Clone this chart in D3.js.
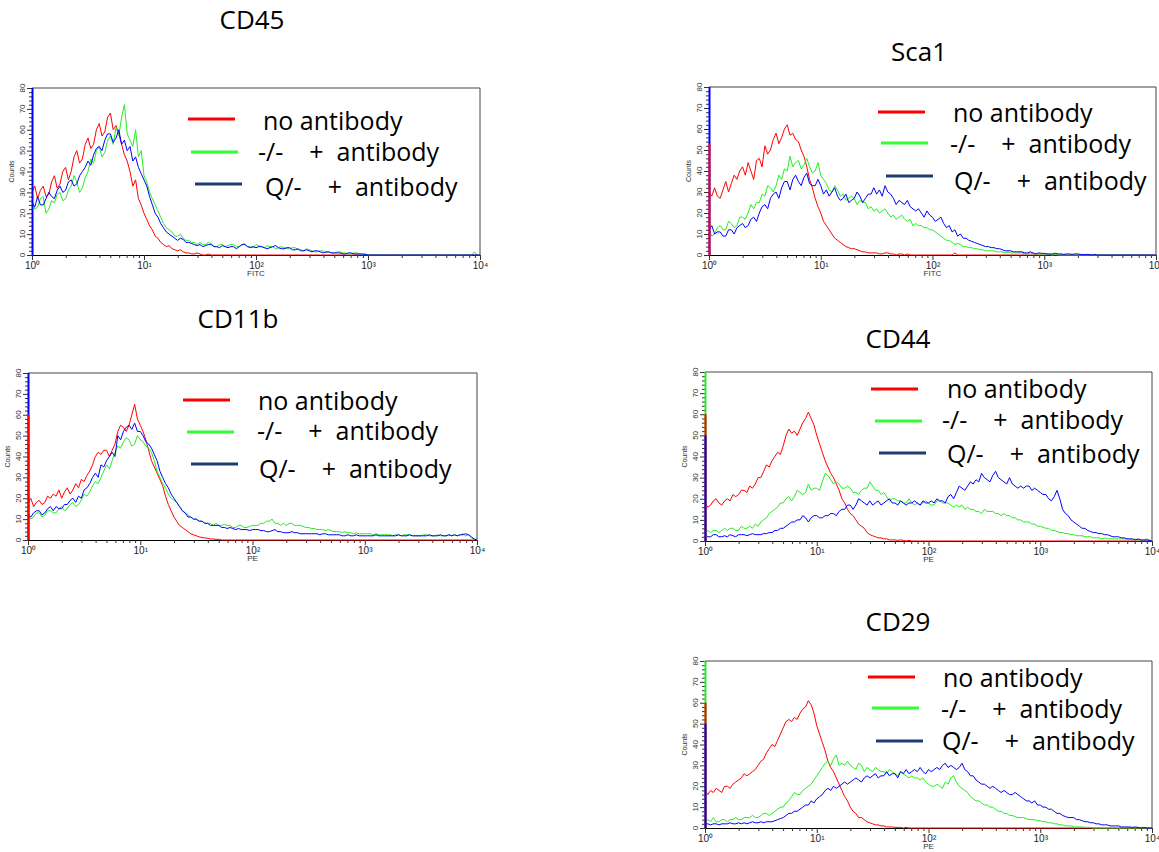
<!DOCTYPE html>
<html>
<head>
<meta charset="utf-8">
<script src="https://cdn.jsdelivr.net/npm/d3@7"></script>
<style>
  body { margin: 0; background: #fff; }
  svg { display: block; }
  .ttl { font-family: "Open Sans", sans-serif; font-size: 26px; fill: #000; }
  .leg { font-family: "Open Sans", sans-serif; font-size: 25px; fill: #000; white-space: pre; }
  .ax text { font-family: "Liberation Sans", Arial, sans-serif; fill: #222; }
</style>
</head>
<body>
<div id="chart"></div>
<script>
// histogram channels: 40 per decade, 10^0 .. 10^4 (161 bins)
const stepsPerDecade = 40;
const seriesNames = ["no antibody", "-/-    +  antibody", "Q/-    +  antibody"];
const titles = ["CD45", "Sca1", "CD11b", "CD44", "CD29"];
const xLabels = ["FITC", "FITC", "PE", "PE", "PE"];
const yTicks = [0, 10, 20, 30, 40, 50, 60, 70, 80];
const xTicks = [1, 10, 100, 1000, 10000];

// counts per bin (10 bins = a quarter decade per row)
const cd45Red = [
  30,33,27,31,33,28,29,35,38,32,
  34,40,42,36,40,47,50,44,46,53,
  56,51,53,60,63,57,59,66,68,60,
  62,58,53,48,45,40,33,36,27,24,
  20,17,14,12,9,8,6,5,4,4.5,
  3,2.5,2,2.5,1.5,1,1,0.5,0.5,1,
  0.5,0,0,0.5,0,0,0,0,0,0,
  0,0,0,0,0,0,0,0,0,0,
  0,0,0,0,0,0,0,0,0,0,
  0,0,0,0,0,0,0,0,0,0,
  0,0,0,0,0,0,0,0,0,0,
  0,0,0,0,0,0,0,0,0,0,
  0,0,0,0,0,0,0,0,0,0,
  0,0,0,0,0,0,0,0,0,0,
  0,0,0,0,0,0,0,0,0,0,
  0,0,0,0,0,0,0,0,0,0,
  0];
const cd45Green = [
  26,22,23,27,28,20,22,26,25,29,
  30,26,27,31,33,38,35,30,32,37,
  40,46,44,50,52,47,49,55,57,53,
  61,57,66,72,58,55,52,60,47,50,
  38,35,30,27,24,21,18,15,13,12,
  11,9,9,10,8,7,7,6,6,5,
  6,5,5,6,5.5,4,4,5,5,4,
  4.5,5,5,4,4,5,5.5,4,4,3.5,
  5,4.5,4,3.5,4.5,4,4,3,3.5,4,
  3.5,3,3,3.5,3.5,2.5,2.5,2,3,2.5,
  2,1.5,1.5,2,2,1,1.5,1,1,1.5,
  1.5,1,1,0.5,0.5,1,1,0.5,0.3,0.5,
  0,0,0,0,0,0,0,0,0,0,
  0,0,0,0,0,0,0,0,0,0,
  0,0,0,0,0,0,0,0,0,0,
  0,0,0,0,0,0,0,0,1.5,0,
  0];
const cd45Blue = [
  25,23,28,24,24,27,30,28,27,31,
  33,30,31,35,36,33,34,38,40,42,
  45,43,48,51,52,50,55,58,58,54,
  56,60,53,55,50,52,45,47,42,39,
  36,33,28,24,20,18,15,13,11,10,
  9,8,7,8,7.5,6,6,5.5,5,4.5,
  5,4,4.5,5,5,4,4,3.5,4.5,4,
  3.5,4,4,3,4,5,5,4,3.5,4,
  3.5,4,4,3.5,3,3.5,4,4.5,3.5,3,
  3,3.5,3.5,2.5,2.5,3,2,2,2.5,2,
  1.5,2,2,1.5,1,1.5,1.5,1,1,1,
  1,0.5,0.5,1,1,0.5,0.5,0.5,0.5,0.3,
  0,0,0,0,0,0,0,0,0,0,
  0,0,0,0,0,0,0,0,0,0,
  0,0,0,0,0,0,0,0,0,0,
  0,0,0,0,0,0,0,0,0,0,
  0];

const sca1Red = [
  30,28,32,28,27,31,35,30,34,38,
  36,40,42,38,44,40,36,45,46,42,
  52,48,50,55,58,53,56,60,62,57,
  58,55,54,50,47,42,36,32,27,23,
  20,16,14,12,10,8,7,6,5,4,
  3.5,3,3,2.5,2,1.5,1.5,1,1,1,
  1,0.5,0.5,1,1,0.5,0.5,0,0.5,0.5,
  0,0.5,0,0,0,0,0,0,0,0,
  0,0,0,0,0,0,0,0,1,0,
  0,0,0,0,0,0,0,0,0,0,
  0,0,0,0,0,0,0,0,0,0,
  0,0,0,0,0,0,0,0,0,0,
  0,0,0,0,0,0,0,0,0,0,
  0,0,0,0,0,0,0,0,0,0,
  0,0,0,0,0,0,0,0,0,0,
  0,0,0,0,0,0,0,0,0,0,
  0];
const sca1Green = [
  12,9,10,13,14,12,12,16,15,13,
  14,18,18,17,20,24,22,25,25,29,
  28,33,32,30,33,38,36,41,40,47,
  42,44,45,41,43,46,42,39,40,44,
  38,36,34,31,30,33,31,28,29,26,
  27,28,27,24,26,25,25,22,23,21,
  22,20,21,22,20,18,19,17,18,19,
  17,16,17,14,15,14,14,13,13,12,
  12,11,10,9,8,7,7,6,5,5.5,
  5,4,4,3.5,3.5,3,3,2.5,2.5,2,
  2,2,2,1.5,1.5,1.5,1,1.5,1,1,
  1,1,1,0.5,0.5,1,0.5,0.5,0.5,0.5,
  0.5,0.5,0.3,0,0.5,0,0,0,0,0,
  0,0,0,0,0,0,0,0,0,0,
  0,0,0,0,0,0,0,0,0,0,
  0,0,0,0,0,0,0,0,0,0,
  0];
const sca1Blue = [
  12,14,10,11,11,9,9,12,12,10,
  13,14,15,13,14,17,18,16,20,23,
  24,22,27,29,30,27,32,35,35,31,
  36,38,35,33,37,39,34,33,33,36,
  33,29,31,28,30,32,28,26,27,29,
  25,26,27,30,28,25,27,29,29,32,
  29,31,28,33,30,29,27,24,26,25,
  24,26,23,22,21,22,20,18,21,19,
  18,16,17,18,15,13,14,11,12,9,
  10,8,8,7,6.5,6,5.5,5,4.5,4,
  4,3.5,3.5,3,3,2.5,2,2,2,1.5,
  1.5,1.5,1.5,1,1,1.5,1,0.5,1,0.8,
  0.8,0.5,0.5,0.5,0.8,0.5,0.5,0.3,0.5,0.5,
  0.3,0.5,0.5,0.3,0.2,0.3,0.2,0,0.3,0,
  0,0,0,0,0,0,0,0,0,0,
  0,0,0,0,0,0,0,0,0,0,
  0];

const cd11bRed = [
  18,20,16,18,19,17,18,21,20,22,
  21,24,20,23,25,22,24,27,25,29,
  28,31,33,36,40,42,41,43,43,40,
  43,46,52,55,54,52,55,60,65,58,
  55,52,48,43,38,35,32,29,26,21,
  17,14,11,9,7,6,5,4,3,2.5,
  2,1.5,1.2,1,0.8,0.5,0.5,0.3,0.3,0,
  0,0,0,0,0,0,0,0,0,0,
  0,0,0,0,0,0,0,0,0,0,
  0,0,0,0,0,0,0,0,0,0,
  0,0,0,0,0,0,0,0,0,0,
  0,0,0,0,0,0,0,0,0,0,
  0,0,0,0,0,0,0,0,0,0,
  0,0,0,0,0,0,0,0,0,0,
  0,0,0,0,0,0,0,0,0,0,
  0,0,0,0,0,0,0,0,0,0,
  0];
const cd11bGreen = [
  12,10,11,13,13,11,12,14,14,13,
  13,15,16,14,15,17,18,16,17,19,
  22,21,23,26,28,27,30,33,36,34,
  38,42,45,44,47,49,48,45,46,50,
  48,47,45,44,42,38,33,30,27,25,
  22,20,19,18,16,14,13,12,11,10,
  10,9,9,8,8,8,7,8,7,7,
  7.5,7,7,6,6,7,7,6,6,6.5,
  7,7,7,8,8,9,9,10,8,8,
  7,8,7,8,8,7,7,7,6.5,6,
  6,5.5,5.5,5,5,5,4.5,5,4.5,4,
  4,4,3.5,4,3.5,3.5,3,3.5,3,3,
  3,3,3,2.5,3,2.5,2.5,2.5,2.5,2.5,
  2,2.5,2.5,2,2.5,2.5,2.5,2,2,2,
  2,2.5,2.5,2,2,2,2.5,2,2,2,
  2.5,2,2.5,2,2.5,3,2,2.5,1,0.5,
  0];
const cd11bBlue = [
  12,11,13,14,14,12,13,15,16,14,
  16,15,15,17,17,19,20,18,21,20,
  24,25,27,30,32,30,36,35,38,40,
  42,40,50,48,52,54,55,53,56,52,
  52,50,47,46,44,41,38,33,30,27,
  25,22,20,18,16,14,13,11,11,10,
  10,9,9,8,8,7,7,7,7,6,
  6,5.5,6,5.5,5,5.5,5,5,5,4.5,
  5,5,5,4.5,4.5,4,4,4.5,5,4,
  4,3.5,3.5,3.5,4,3.5,3.5,3,3,3,
  3,3,3,3,2.5,3,3,2.5,2.5,2.5,
  2.5,2.5,2,2,2.5,2,2,2.5,2,2,
  2,2,2,2,2.5,2,2,2,2,2,
  2,2,2.5,2,2,2,2.5,2,2,2,
  2,2,2,2.5,2,2,2,2.5,2,2,
  2.5,2,2.5,2,2.5,2.5,3,2.5,1.5,0.5,
  0];

const cd44Red = [
  18,16,17,19,20,18,17,19,20,19,
  22,21,22,24,24,23,26,25,27,30,
  30,33,36,35,38,40,42,41,45,50,
  53,51,52,50,53,56,58,61,58,55,
  50,46,42,38,35,32,30,27,24,20,
  18,15,13,12,10,8,7,6,4,3,
  2.5,2,1.5,1.5,1,1,0.5,0.5,0.5,0.3,
  0.5,0.3,0,0.3,0,0,0,0,0,0,
  0,0,0,0,0,0,0,0,0,0,
  0,0,0,0,0,0,0,0,0,0,
  0,0,0,0,0,0,0,0,0,0,
  0,0,0,0,0,0,0,0,0,0,
  0,0,0,0,0,0,0,0,0,0,
  0,0,0,0,0,0,0,0,0,0,
  0,0,0,0,0,0,0,0,0,0,
  0,0,0,0,0,0,0,0,0,0,
  0];
const cd44Green = [
  4,5,4,5,5,4,5,6,5,6,
  6,5,5,7,6,6,7,6,8,7,
  9,10,11,13,14,15,16,18,18,20,
  21,19,21,24,23,22,23,27,24,25,
  25,24,28,32,31,29,27,28,27,25,
  25,26,25,23,23,22,24,25,25,28,
  26,24,24,22,23,21,19,20,20,19,
  19,18,18,20,18,17,18,17,18,19,
  18,17,17,19,19,18,18,18,17,16,
  17,16,17,15,16,15,15,14,14,13,
  15,14,14,14,13,13,12,13,12,12,
  11,11,10,10,9,9,9,8,8,7,
  7,6.5,6,6,5,5,4.5,4,4,3.5,
  3.5,3,3,2.5,2.5,2.5,2,2,2,1.5,
  1.5,1.5,1,1.5,1,1,1,1,1,1,
  1,1,1,0.5,1,0.5,0.5,0.5,1,0.5,
  0];
const cd44Blue = [
  3,2,2,3,3,2,2,2.5,2,3,
  2.5,2,3,3,3,2.5,3,3.5,3,3,
  3,3.5,3.5,4,4,5,5,6,6,7,
  8,9,9,10,10,12,11,9,11,12,
  12,11,11,12,12,13,13,12,14,15,
  15,17,17,15,17,20,19,18,17,19,
  17,18,19,17,18,19,20,18,18,17,
  19,18,17,18,18,19,18,17,19,18,
  18,19,18,20,19,19,18,21,22,20,
  23,26,25,24,26,28,27,29,28,32,
  30,29,28,31,33,30,29,28,27,30,
  27,26,25,26,25,26,26,24,25,24,
  23,22,22,20,19,21,24,20,15,13,
  12,10,9,8,7,6,6,5,4.5,4,
  4,3.5,3.5,3,3,2.5,2,2,2,1.5,
  1.5,1,1,1,0.5,1,0.5,0.5,0.5,0.3,
  0];

const cd29Red = [
  18,16,18,17,19,18,17,20,20,19,
  21,22,23,24,26,25,26,27,28,30,
  32,33,36,38,40,39,42,45,48,51,
  52,51,53,52,55,57,58,61,59,55,
  49,45,41,37,32,29,27,24,21,18,
  15,13,10,8,7,5,5,4,3,2.5,
  2,1.5,1.5,1,1,0.5,0.5,0.5,0.3,0.3,
  0.3,0,0.3,0,0,0,0,0,0,0,
  0,0,0,0,0,0,0,0,0,0,
  0,0,0,0,0,0,0,0,0,0,
  0,0,0,0,0,0,0,0,0,0,
  0,0,0,0,0,0,0,0,0,0,
  0,0,0,0,0,0,0,0,0,0,
  0,0,0,0,0,0,0,0,0,0,
  0,0,0,0,0,0,0,0,0,0,
  0,0,0,0,0,0,0,0,0,0,
  0];
const cd29Green = [
  3,4,3,5,3,3,4,4,3,4,
  4,5,4,4,5,5,5,6,5,5,
  6,7,7,6,7,8,9,10,10,12,
  13,15,17,16,16,18,19,20,21,23,
  25,27,29,31,32,30,33,35,30,31,
  30,32,30,29,28,31,30,27,29,28,
  27,29,28,27,27,26,28,27,26,25,
  27,26,25,24,25,24,24,23,24,22,
  21,20,20,21,20,19,22,21,24,25,
  22,20,19,18,17,15,14,13,13,12,
  11,11,10,10,9,8,8,7,7,6,
  6,5.5,5,5,5,4.5,4,4,4,3.5,
  3.5,3,3,2.5,2.5,2,2,1.5,1.5,1,
  1,1,0.5,0.5,0.5,0.5,0.3,0.3,0.3,0,
  0,0,0,0,0,0,0,0,0,0,
  0,0,0,0,0,0,0,0,0,0,
  0];
const cd29Blue = [
  2,2,1.5,2,2,1.5,2,2,2,2.5,
  2,2,2.5,2,2.5,2,2.5,3,2.5,2.5,
  3,2.5,3,3,3,3.5,4,4.5,5,6,
  7,7,8,8,9,10,11,11,13,12,
  14,15,16,18,19,18,20,19,20,21,
  22,21,22,23,24,23,22,24,25,24,
  25,26,24,25,25,27,25,26,26,24,
  27,26,28,26,27,28,27,29,27,26,
  28,27,28,29,28,30,31,29,30,29,
  28,29,31,28,27,25,25,23,22,21,
  21,20,19,20,19,18,17,18,17,16,
  16,17,16,15,14,13,13,12,13,11,
  11,10,10,9,9,8,7,7,6,5.5,
  5,5,5,4,4,3.5,3,3,2.5,2.5,
  2,2,1.5,1.5,1.5,1,1,1,1,0.5,
  0.5,0.5,0.5,0.3,0.5,0.3,0,0.3,0,0,
  0];

// first-channel pile-up (red, green, blue)
const cd45Edge = [0, 0, 80];
const sca1Edge = [53, 0, 80];
const cd11bEdge = [60, 0, 80];
const cd44Edge = [60, 80, 50];
const cd29Edge = [60, 80, 50];

const lineColors = ["#ff0000", "#22ee22", "#0000ff"];
const legendColors = ["#ff0000", "#33ff33", "#1f3b73"];

// layout of each panel on the page
const panels = [
  { title: titles[0], xLabel: xLabels[0], series: [cd45Red, cd45Green, cd45Blue], edge: cd45Edge,
    box: { l: 32, r: 480, t: 88, b: 255 }, titleAt: [252, 29],
    legend: { lines: [[188, 119], [191, 152], [195, 184]], text: [[263, 130], [258, 161], [265, 196]] } },
  { title: titles[1], xLabel: xLabels[1], series: [sca1Red, sca1Green, sca1Blue], edge: sca1Edge,
    box: { l: 709, r: 1156, t: 87, b: 255 }, titleAt: [919, 61],
    legend: { lines: [[878, 112], [881, 143], [886, 176]], text: [[953, 122], [950, 153], [954, 190]] } },
  { title: titles[2], xLabel: xLabels[2], series: [cd11bRed, cd11bGreen, cd11bBlue], edge: cd11bEdge,
    box: { l: 28, r: 477, t: 373, b: 540 }, titleAt: [238, 328],
    legend: { lines: [[183, 400], [187, 432], [191, 464]], text: [[258, 410], [257, 440], [259, 478]] } },
  { title: titles[3], xLabel: xLabels[3], series: [cd44Red, cd44Green, cd44Blue], edge: cd44Edge,
    box: { l: 705, r: 1152, t: 372, b: 541 }, titleAt: [898, 348],
    legend: { lines: [[871, 389], [875, 421], [879, 453]], text: [[947, 398], [942, 429], [947, 463]] } },
  { title: titles[4], xLabel: xLabels[4], series: [cd29Red, cd29Green, cd29Blue], edge: cd29Edge,
    box: { l: 705, r: 1152, t: 661, b: 828 }, titleAt: [898, 631],
    legend: { lines: [[868, 677], [872, 708], [876, 741]], text: [[943, 687], [941, 718], [942, 750]] } }
];

const svg = d3.select("#chart").append("svg")
  .attr("width", 1159)
  .attr("height", 852);

const supDigits = { "0": "\u2070", "1": "\u00b9", "2": "\u00b2", "3": "\u00b3", "4": "\u2074" };

panels.forEach(p => {
  const { l, r, t, b } = p.box;
  const x = d3.scaleLog().domain([1, 10000]).range([l, r]);
  const y = d3.scaleLinear().domain([0, 80]).range([b, t]);
  const g = svg.append("g");

  // title
  g.append("text").attr("class", "ttl")
    .attr("x", p.titleAt[0]).attr("y", p.titleAt[1])
    .attr("text-anchor", "middle")
    .text(p.title);

  // frame top + right
  g.append("path")
    .attr("d", `M${l},${t}H${r}V${b}`)
    .attr("fill", "none").attr("stroke", "#444").attr("stroke-width", 1);

  // y axis: major every 10, minor every 2
  const yAx = g.append("g").attr("class", "ax").attr("transform", `translate(${l},0)`)
    .call(d3.axisLeft(y).tickValues(d3.range(0, 81, 2)).tickSize(3).tickFormat(""));
  yAx.select(".domain").remove();
  yAx.selectAll("line").attr("stroke", "#333");
  yAx.selectAll(".tick").filter(d => d % 10 === 0).select("line").attr("x2", -5);
  yTicks.forEach(v => {
    g.append("text")
      .attr("transform", `translate(${l - 7},${y(v)}) rotate(-90)`)
      .attr("text-anchor", "middle")
      .style("font-family", "Liberation Sans, Arial, sans-serif")
      .style("font-size", "8px").style("fill", "#333")
      .text(v);
  });
  g.append("text")
    .attr("transform", `translate(${l - 18},${(t + b) / 2}) rotate(-90)`)
    .attr("text-anchor", "middle")
    .style("font-family", "Liberation Sans, Arial, sans-serif")
    .style("font-size", "7px").style("fill", "#333")
    .text("Counts");

  // x axis: decades + minor ticks
  const minor = [];
  for (let d = 1; d < 10000; d *= 10) for (let k = 2; k <= 9; k++) minor.push(d * k);
  const xAx = g.append("g").attr("class", "ax").attr("transform", `translate(0,${b})`)
    .call(d3.axisBottom(x).tickValues(minor).tickSize(3).tickFormat(""));
  xAx.select(".domain").attr("stroke", "#000");
  xAx.selectAll("line").attr("stroke", "#333");
  const xMaj = g.append("g").attr("class", "ax").attr("transform", `translate(0,${b})`)
    .call(d3.axisBottom(x).tickValues(xTicks).tickSize(5)
      .tickFormat(d => "10" + supDigits[String(Math.round(Math.log10(d)))]));
  xMaj.select(".domain").remove();
  xMaj.selectAll("line").attr("stroke", "#333");
  xMaj.selectAll("text").attr("dy", "0.55em").style("font-size", "10px");
  g.append("text")
    .attr("x", x(100)).attr("y", b + 21)
    .attr("text-anchor", "middle")
    .style("font-family", "Liberation Sans, Arial, sans-serif")
    .style("font-size", "8px").style("fill", "#333")
    .text(p.xLabel);

  // histogram traces
  const line = d3.line()
    .x((d, i) => x(Math.pow(10, i / stepsPerDecade)))
    .y(d => y(Math.min(d, 80)));
  p.series.forEach((s, k) => {
    g.append("path").datum(s)
      .attr("d", line)
      .attr("fill", "none")
      .attr("stroke", lineColors[k])
      .attr("stroke-width", 1)
      .attr("stroke-linejoin", "round");
  });
  // first channel pile-up, drawn tallest first
  d3.range(3).sort((a, c) => p.edge[c] - p.edge[a]).forEach(k => {
    if (!p.edge[k]) return;
    g.append("line")
      .attr("x1", x(1) + 0.5).attr("x2", x(1) + 0.5)
      .attr("y1", y(0)).attr("y2", y(p.edge[k]))
      .attr("stroke", lineColors[k]).attr("stroke-width", 2);
  });

  // legend
  seriesNames.forEach((name, k) => {
    const [lx, ly] = p.legend.lines[k];
    g.append("line")
      .attr("x1", lx).attr("x2", lx + 47)
      .attr("y1", ly).attr("y2", ly)
      .attr("stroke", legendColors[k]).attr("stroke-width", 3);
    const [tx, ty] = p.legend.text[k];
    g.append("text").attr("class", "leg")
      .attr("x", tx).attr("y", ty)
      .text(name);
  });
});
</script>
</body>
</html>
